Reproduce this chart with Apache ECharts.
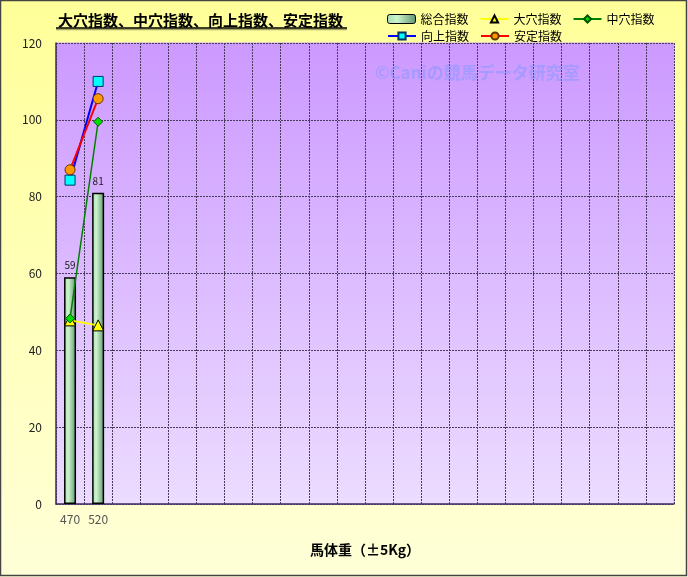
<!DOCTYPE html>
<html><head><meta charset="utf-8">
<script src="https://cdn.jsdelivr.net/npm/echarts@6/dist/echarts.min.js"></script>
<style>html,body{margin:0;padding:0;}#c{width:688px;height:577px;}</style>
</head><body><div id="c"></div>
<script>
const categories = ['470','520','','','','','','','','','','','','','','','','','','','',''];
const sogo = [59, 81];
const oana = [47.8, 46.5];
const chuana = [48.3, 99.5];
const kojo = [84.3, 110];
const antei = [87, 105.5];
const yTicks = {min: 0, max: 120, interval: 20};

const F = '"Noto Sans CJK JP", "Noto Sans", sans-serif';
const chart = echarts.init(document.getElementById('c'));
const barGrad = new echarts.graphic.LinearGradient(0,0,1,0,[
  {offset:0,color:'#a8dcb0'},{offset:0.35,color:'#ccf5cc'},{offset:1,color:'#5f9470'}]);
const legText = {fontFamily:F, fontSize:12, color:'#000'};
chart.setOption({
  animation:false,
  backgroundColor: new echarts.graphic.LinearGradient(0,0,0,1,[
    {offset:0,color:'#ffff99'},{offset:1,color:'#ffffd8'}]),
  title:{text:'大穴指数、中穴指数、向上指数、安定指数', left:53, top:8,
    textStyle:{fontFamily:F, fontSize:15, fontWeight:'bold', color:'#000',
      textShadowColor:'rgba(0,0,0,0.25)', textShadowOffsetX:1, textShadowOffsetY:1, textShadowBlur:0}},
  legend:[
    {left:382, top:8, itemWidth:28, itemHeight:9, itemGap:11, textStyle:legText,
     data:[{name:'総合指数', itemStyle:{color:barGrad, borderColor:'#000', borderWidth:1}},'大穴指数','中穴指数']},
    {left:382, top:25, itemWidth:28, itemHeight:9, itemGap:11, textStyle:legText,
     data:['向上指数','安定指数']}
  ],
  grid:{left:56, right:14, top:43, bottom:73, show:true,
    backgroundColor:new echarts.graphic.LinearGradient(0,0,0,1,[
      {offset:0,color:'#cc99ff'},{offset:1,color:'#ecdcff'}]),
    borderColor:'#c9a0ff', borderWidth:1},
  xAxis:{type:'category', data:categories, boundaryGap:true,
    name:'馬体重（±5Kg）', nameLocation:'middle', nameGap:39,
    nameTextStyle:{fontFamily:F, fontSize:14, fontWeight:'bold', color:'#000'},
    axisLine:{lineStyle:{color:'#443366', width:1.5}},
    axisTick:{show:false},
    axisLabel:{fontFamily:F, fontSize:12, color:'#555', margin:9, interval:0},
    splitLine:{show:true, interval:0, lineStyle:{color:'#4a3a5a', type:[2,1], width:1}}},
  yAxis:{type:'value', min:yTicks.min, max:yTicks.max, interval:yTicks.interval,
    axisLine:{show:true, lineStyle:{color:'#443366', width:1.5}},
    axisTick:{show:false},
    axisLabel:{fontFamily:F, fontSize:12, color:'#222', margin:14},
    splitLine:{show:true, lineStyle:{color:'#4a3a5a', type:[2,1], width:1}}},
  graphic:[
    {type:'line', shape:{x1:56,y1:28,x2:347,y2:28}, style:{stroke:'#000', lineWidth:1.5, shadowColor:'rgba(0,0,0,0.35)', shadowOffsetY:1.5}, z:100},
    {type:'text', left:375, top:64, style:{text:'©Caniの競馬データ研究室', font:'bold 17px '+F, fill:'rgba(120,150,255,0.45)'}, z:100},
    {type:'rect', shape:{x:0.5,y:0.5,width:686,height:575}, style:{fill:'none', stroke:'#444', lineWidth:1.5}, z:100}
  ],
  series:[
    {name:'総合指数', type:'bar', data:sogo, barWidth:12,
      itemStyle:{color:barGrad, borderColor:'#000', borderWidth:1.5},
      label:{show:true, position:'top', distance:7, fontFamily:F, fontSize:10, color:'#222'}},
    {name:'大穴指数', type:'line', data:oana, symbol:'triangle', symbolSize:11,
      lineStyle:{color:'#ffff00', width:2}, itemStyle:{color:'#ffff00', borderColor:'#000', borderWidth:1}},
    {name:'中穴指数', type:'line', data:chuana, symbol:'diamond', symbolSize:9,
      lineStyle:{color:'#008000', width:1.5}, itemStyle:{color:'#00dd00', borderColor:'#005500', borderWidth:1}},
    {name:'向上指数', type:'line', data:kojo, symbol:'rect', symbolSize:10,
      lineStyle:{color:'#0000ff', width:2}, itemStyle:{color:'#00ffff', borderColor:'#003366', borderWidth:1}},
    {name:'安定指数', type:'line', data:antei, symbol:'circle', symbolSize:10,
      lineStyle:{color:'#ff0000', width:2}, itemStyle:{color:'#ff9900', borderColor:'#663300', borderWidth:1}}
  ]
});
</script></body></html>
